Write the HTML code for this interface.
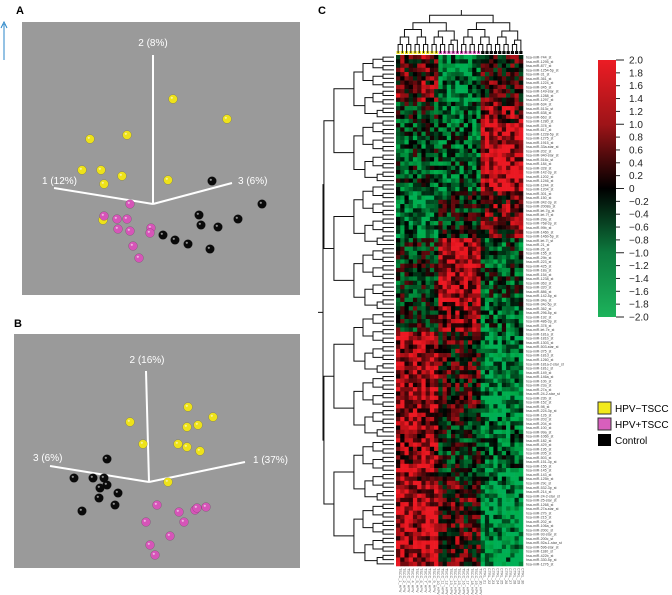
<!DOCTYPE html>
<html><head><meta charset="utf-8"><style>
body{margin:0;background:#fff;}
svg{display:block;font-family:"Liberation Sans",sans-serif;}
</style></head><body>
<svg id="fig" width="672" height="595" viewBox="0 0 672 595" xmlns="http://www.w3.org/2000/svg">
<text x="16" y="14" font-size="11" font-weight="bold">A</text>
<text x="14" y="327" font-size="11" font-weight="bold">B</text>
<text x="318" y="14" font-size="11" font-weight="bold">C</text>
<g><line x1="4" y1="60" x2="4" y2="24" stroke="#2a86c8" stroke-width="1"/><path d="M1,28 L4,22 L7,28" fill="none" stroke="#2a86c8"/></g>
<rect x="22" y="22" width="278" height="273" fill="#9a9a9a"/>
<rect x="14" y="334" width="286" height="234" fill="#9a9a9a"/>
<g id="pcaA"></g>
<g id="pcaB"></g>
<g id="heat"></g>
<g id="cbar"></g>
<g>
<rect x="598" y="402" width="13" height="12" fill="#f2ea1c" stroke="#333"/>
<text x="615" y="412" font-size="10">HPV−TSCC</text>
<rect x="598" y="418" width="13" height="12" fill="#d85fbd" stroke="#333"/>
<text x="615" y="428" font-size="10">HPV+TSCC</text>
<rect x="598" y="434" width="13" height="12" fill="#000"/>
<text x="615" y="444" font-size="10">Control</text>
</g>
</svg>
<script>
const NS="http://www.w3.org/2000/svg";
function mk(tag,attrs,parent){const e=document.createElementNS(NS,tag);for(const k in attrs)e.setAttribute(k,attrs[k]);parent.appendChild(e);return e;}
// PCA A
const aYellowX=[173,227,90,127,82,101,122,104,168,103];
const aYellowY=[99,119,139,135,170,170,176,184,180,220];
const aPinkX=[130,104,117,127,118,130,151,150,133,139];
const aPinkY=[204,216,219,219,229,231,228,233,246,258];
const aBlackX=[212,262,199,238,201,218,163,175,188,210];
const aBlackY=[181,204,215,219,225,227,235,240,244,249];
// PCA B
const bYellowX=[188,130,187,198,213,143,178,187,200,168];
const bYellowY=[407,422,427,425,417,444,444,447,451,482];
const bBlackX=[107,74,93,104,107,100,118,99,115,82];
const bBlackY=[459,478,478,478,485,488,493,498,505,511];
const bPinkX=[157,179,195,197,206,184,146,170,155,150];
const bPinkY=[505,512,510,508,507,522,522,536,555,545];
function axes(g,o,ends,labels){
  ends.forEach((p,i)=>{const l=mk('line',{x1:o[0],y1:o[1],x2:p[0],y2:p[1],stroke:'#fff','stroke-width':2},g);
    });
  labels.forEach(t=>{const e=mk('text',{x:t[0],y:t[1],fill:'#fff','font-size':10,'text-anchor':t[3]||'middle'},g);e.textContent=t[2];
    });
}
function pts(g,xs,ys,fill,name){xs.forEach((x,i)=>{const c=mk('circle',{cx:x,cy:ys[i],r:4.4,fill:fill,stroke:'rgba(0,0,0,0.25)','stroke-width':0.5},g);
  
  mk('circle',{cx:x-1.2,cy:ys[i]-1.2,r:1.1,fill:'rgba(255,255,255,0.55)'},g);});}
const gA=document.getElementById('pcaA');
axes(gA,[153,204],[[153,55],[54,188],[232,183]],[[153,46,'2 (8%)'],[42,184,'1 (12%)','start'],[238,184,'3 (6%)','start']]);
pts(gA,aYellowX,aYellowY,'#eee21a','point-hpv-neg');pts(gA,aPinkX,aPinkY,'#d655b8','point-hpv-pos');pts(gA,aBlackX,aBlackY,'#0a0a0a','point-control');
const gB=document.getElementById('pcaB');
axes(gB,[149,482],[[146,371],[50,466],[245,462]],[[147,363,'2 (16%)'],[33,461,'3 (6%)','start'],[253,463,'1 (37%)','start']]);
pts(gB,bYellowX,bYellowY,'#eee21a','point-hpv-neg');pts(gB,bPinkX,bPinkY,'#d655b8','point-hpv-pos');pts(gB,bBlackX,bBlackY,'#0a0a0a','point-control');

// Heatmap: row blocks with group means
const blockStart=[0,11,16,32,43,58,65,86,100];
const meanHpvNeg=[0.6,-0.4,-0.6,-1.2,-0.3,-0.2,1.3,1.0,1.4];
const meanHpvPos=[-1.2,-1.0,-0.8,-0.3,1.4,0.9,0.2,-0.3,0.4];
const meanControl=[0.3,0.8,1.5,0.6,-0.6,-0.9,-1.3,-1.0,-1.5];
const colGroups=['neg','neg','neg','neg','neg','neg','neg','neg','neg','neg','pos','pos','pos','pos','pos','pos','pos','pos','pos','pos','ctl','ctl','ctl','ctl','ctl','ctl','ctl','ctl','ctl','ctl'];
const nRows=120,hx0=396,hx1=523,hy0=55,hy1=566;
const cw=(hx1-hx0)/colGroups.length,rh=(hy1-hy0)/nRows;
function col(v){v=Math.max(-2,Math.min(2,v));
  if(v>=0){const t=v/2;return `rgb(${Math.round(235*Math.min(1,t*1.15))},${Math.round(25*t)},${Math.round(35*t)})`;}
  const t=-v/2;return `rgb(0,${Math.round(175*Math.min(1,t*1.15))},${Math.round(85*t)})`;}
function tex(r,c){let h=(r*374761393+c*668265263)>>>0;h=(h^(h>>>13))*1274126177>>>0;return ((h%1000)/1000-0.5)*2.4;}
const gH=document.getElementById('heat');
for(let r=0;r<nRows;r++){let b=0;for(let k=0;k<blockStart.length;k++)if(r>=blockStart[k])b=k;
  colGroups.forEach((g,c)=>{const m=g==='neg'?meanHpvNeg[b]:g==='pos'?meanHpvPos[b]:meanControl[b];
    const cell=mk('rect',{x:hx0+c*cw,y:hy0+r*rh,width:cw+0.3,height:rh+0.3,fill:col(m+tex(r,c))},gH);
    });}
colGroups.forEach((g,c)=>{const s=mk('rect',{x:hx0+c*cw+0.5,y:51,width:cw-1,height:3,fill:g==='neg'?'#eee21a':g==='pos'?'#d655b8':'#000'},gH);
  });
const miNames=['744','1295','877','1254-5p','31','361','1224','345','149-star','1288','1297','634','513c','638','663','1280','378','617','1228-5p','1275','1915','33a-star','202','940-star','516c','184','328','142-3p','1202','1246','1244','1204','301','150','342-3p','2008a','let-7g','let-7f','29a','768-3p','99b','146b','146b-5p','let-7i','21','26','155','29b','223','425','18a','154','1238','363','320','886','142-5p','34a','34c-5p','362','296-5p','192','486-3p','378','let-7e','181a','181b','1303','503-star','375','181d','1260','181a-2-star','181c','149','146a','10b','23a','27a','24-2-star','23b','152','98','224-3p','126','203','204','100','99a','106b','182','429','195','205','503','151-3p','155','145','143','125b','29c','532-3p','214','24-2-star','25-star','1268','27a-star','27b','215','202','106a','200c','93-star','200c','92a-1-star','596-star','1180','422b','330-5p','1276'];
for(let r=0;r<nRows;r++){const t=mk('text',{x:526,y:hy0+r*rh+rh-0.6,'font-size':3.6,fill:'#444'},gH);
  t.textContent='hsa-miR-'+miNames[r%miNames.length]+'_st';
  }
colGroups.forEach((g,c)=>{const x=hx0+c*cw+cw*0.7;const t=mk('text',{x:x,y:568,'font-size':3.8,fill:'#555',transform:`rotate(90 ${x} 568)`},gH);
  t.textContent=(g==='ctl'?'CTRL_':'TSCC_')+(c+1)+(g==='ctl'?'':'_HPV');
  });
function rowDend(lo,hi,depth){const mid=(lo+hi)/2;const x=Math.max(323,393-Math.log2(hi-lo+1)*10-(depth<3?10:0));
  if(hi-lo<1)return {y:hy0+(lo+0.5)*rh,x:394};
  const m=Math.floor(mid);const a=rowDend(lo,m,depth+1),b=rowDend(m+1,hi,depth+1);
  const p=mk('path',{d:`M${a.x},${a.y}H${x}V${b.y}H${b.x}`,fill:'none',stroke:'#111','stroke-width':1},gH);
  
  return {y:(a.y+b.y)/2,x:x};}
const root=rowDend(0,nRows-1,0);
mk('line',{x1:root.x,y1:root.y,x2:318,y2:root.y,stroke:'#111'},gH);
function colDend(lo,hi){const n=hi-lo+1;const y=Math.max(14,52-Math.log2(n)*7.5);
  if(n<=1)return {x:hx0+(lo+0.5)*cw,y:53};
  const m=Math.floor((lo+hi)/2);const a=colDend(lo,m),b=colDend(m+1,hi);
  const p=mk('path',{d:`M${a.x},${a.y}V${y}H${b.x}V${b.y}`,fill:'none',stroke:'#111','stroke-width':1},gH);
  
  return {x:(a.x+b.x)/2,y:y};}
const cr=colDend(0,colGroups.length-1);mk('line',{x1:cr.x,y1:cr.y,x2:cr.x,y2:10,stroke:'#111'},gH);
const cbTicks=['2.0','1.8','1.6','1.4','1.2','1.0','0.8','0.6','0.4','0.2','0','−0.2','−0.4','−0.6','−0.8','−1.0','−1.2','−1.4','−1.6','−1.8','−2.0'];
const gC=document.getElementById('cbar');
const cy0=60,cy1=317,cx=598,cwid=18;
const defs=mk('defs',{},gC);const lg=mk('linearGradient',{id:'cg',x1:0,y1:0,x2:0,y2:1},defs);
[[0,'#ec1c24'],[0.25,'#9e1418'],[0.5,'#000'],[0.75,'#0d7a3e'],[1,'#1db35b']].forEach(s=>mk('stop',{offset:s[0],'stop-color':s[1]},lg));
const bar=mk('rect',{x:cx,y:cy0,width:cwid,height:cy1-cy0,fill:'url(#cg)'},gC);

cbTicks.forEach((t,i)=>{const y=cy0+i*(cy1-cy0)/(cbTicks.length-1);const long=i%5===0;
  mk('line',{x1:cx+cwid,y1:y,x2:cx+cwid+(long?8:4),y2:y,stroke:'#222'},gC);
  const e=mk('text',{x:629,y:y+3.5,'font-size':10,fill:'#222'},gC);e.textContent=t;
  });
</script>
</body></html>
